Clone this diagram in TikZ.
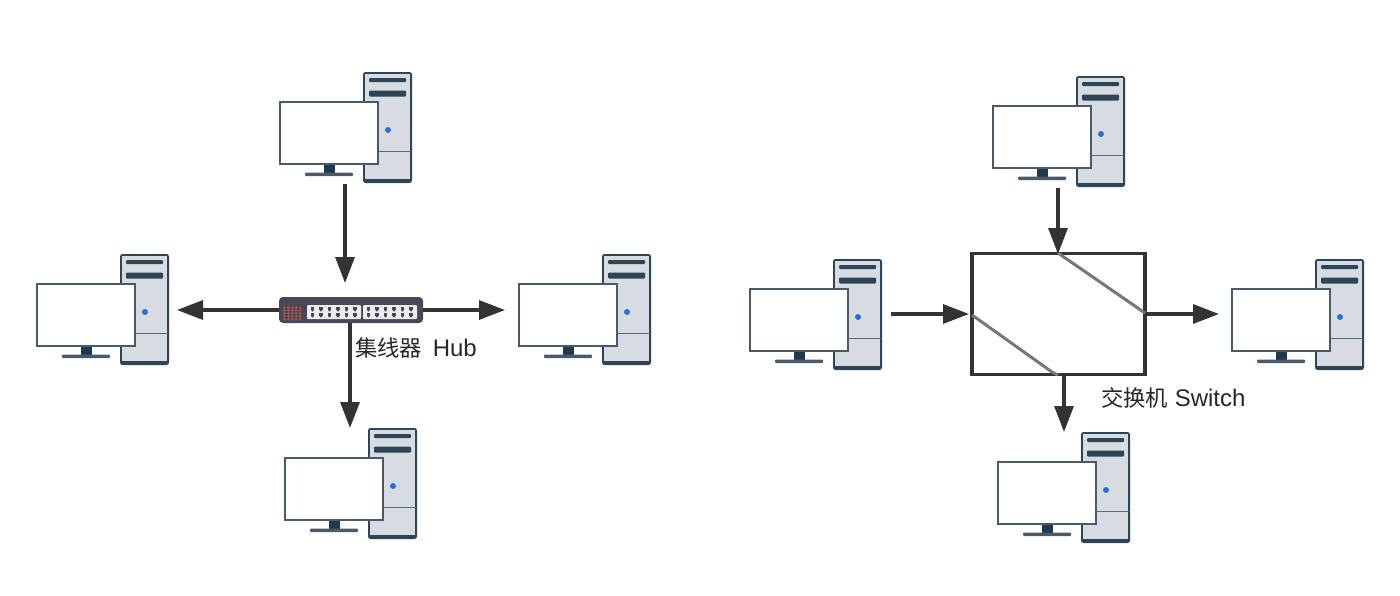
\documentclass[tikz,border=0pt]{standalone}
\usepackage{fontspec}
\setmainfont{Liberation Sans}
\newfontfamily\cjkfont{Noto Sans CJK SC}
\usetikzlibrary{arrows.meta}
\definecolor{towerfill}{HTML}{D6DCE2}
\definecolor{towerline}{HTML}{2F4454}
\definecolor{screenline}{HTML}{4A5A68}
\definecolor{neckcol}{HTML}{1F3A4D}
\definecolor{ledblue}{HTML}{2A6FD6}
\definecolor{wirecol}{HTML}{333333}
\definecolor{hubbody}{HTML}{47475A}
\definecolor{hubport}{HTML}{EDEDED}
\definecolor{hubled}{HTML}{B5583A}
\definecolor{pathcol}{HTML}{777777}
\newcommand{\zhlabel}[1]{{\cjkfont\fontsize{22.3}{24}\selectfont #1}}
\tikzset{
  x=1pt, y=-1pt,
  wire/.style={line width=3.2pt, draw=wirecol, -{Triangle[length=26pt,width=19pt]}},
  label text/.style={font=\fontsize{24}{26}\selectfont, text=black!85, inner sep=0pt, anchor=west},
  switchpath/.style={line width=3pt, draw=pathcol},
  computer/.pic={
    % tower case
    \fill[towerline, rounded corners=2.5pt] (84,0) rectangle (133,111);
    \fill[towerfill] (85.7,1.7) rectangle (131,107);
    \fill[towerline, rounded corners=1pt] (90,6) rectangle (127,10);
    \fill[towerline, rounded corners=1pt] (90,18.5) rectangle (127,24.5);
    \draw[towerline!80, line width=1pt] (85,79) -- (132,79);
    \fill[ledblue] (109,58) circle (3pt);
    % stand
    \fill[neckcol] (44.5,92) rectangle (55.5,101);
    \fill[screenline, rounded corners=1pt] (26,100.5) rectangle (74,104);
    % display
    \draw[screenline, fill=white, line width=2pt] (0.5,30) rectangle (99,92);
  }
}
\begin{document}
\begin{tikzpicture}
\useasboundingbox (0,0) rectangle (1400,595);

% hosts around the hub
\pic at (279,72) {computer};
\pic at (36,254) {computer};
\pic at (518,254) {computer};
\pic at (284,428) {computer};

% hosts around the switch
\pic at (992,76) {computer};
\pic at (749,259) {computer};
\pic at (1231,259) {computer};
\pic at (997,432) {computer};

% hub body
\node[fill=hubbody, rounded corners=4pt, minimum width=144pt, minimum height=26pt, inner sep=0pt] (hub) at (351,310) {};
\foreach \px in {307,363}{
  \fill[hubport, rounded corners=1pt] (\px,305) rectangle ++(54,14);
  \foreach \c in {0,...,5}{
    \foreach \ry in {309,315}{
      \fill[hubbody] ({\px+5.5+\c*8.5-1.8},\ry-1.8) rectangle ++(3.6,3.2);
      \fill[hubbody] ({\px+5.5+\c*8.5},\ry+1.4) circle (1.3pt);
    }
  }
}
\foreach \c in {0,...,4}{
  \foreach \r in {0,...,4}{
    \fill[hubled] ({284.5+\c*3.9},{307.5+\r*2.9}) circle (1.4pt);
  }
}

% hub connectors
\coordinate (hubsrc) at (345,184);
\coordinate (hubtop) at (345,283);
\coordinate (hubleft) at (177,310);
\coordinate (hubright) at (505,310);
\coordinate (hubdown) at (350,428);
\draw[wire] (hubsrc) -- (hubtop);
\draw[wire] (hub.west) -- (hubleft);
\draw[wire] (hub.east) -- (hubright);
\draw[wire] (hub.south -| hubdown) -- (hubdown);

\node[label text] (hublabel) at (355,348) {\zhlabel{集线器} \,Hub};

% switch connectors
\coordinate (swsrc) at (1058,188);
\coordinate (swtop) at (1058,254);
\coordinate (swinsrc) at (891,314);
\coordinate (swin) at (969,314);
\coordinate (swout) at (1219,314);
\coordinate (swdown) at (1064,432);
\draw[wire] (swsrc) -- (swtop);
\draw[wire] (swinsrc) -- (swin);

% switch body
\node[draw=wirecol, fill=white, line width=3.5pt, minimum width=173pt, minimum height=121pt, inner sep=0pt] (switch) at (1058.5,314) {};
\draw[wire] (switch.east) -- (swout);
\draw[wire] (switch.south -| swdown) -- (swdown);

% internal crossbar paths
\draw[switchpath] (1058,253) -- (1145,313);
\draw[switchpath] (972,315) -- (1045,367) .. controls (1049,370) and (1053,373) .. (1058,375);

\node[label text] (swlabel) at (1101,398) {\zhlabel{交换机} Switch};
\end{tikzpicture}
\end{document}
